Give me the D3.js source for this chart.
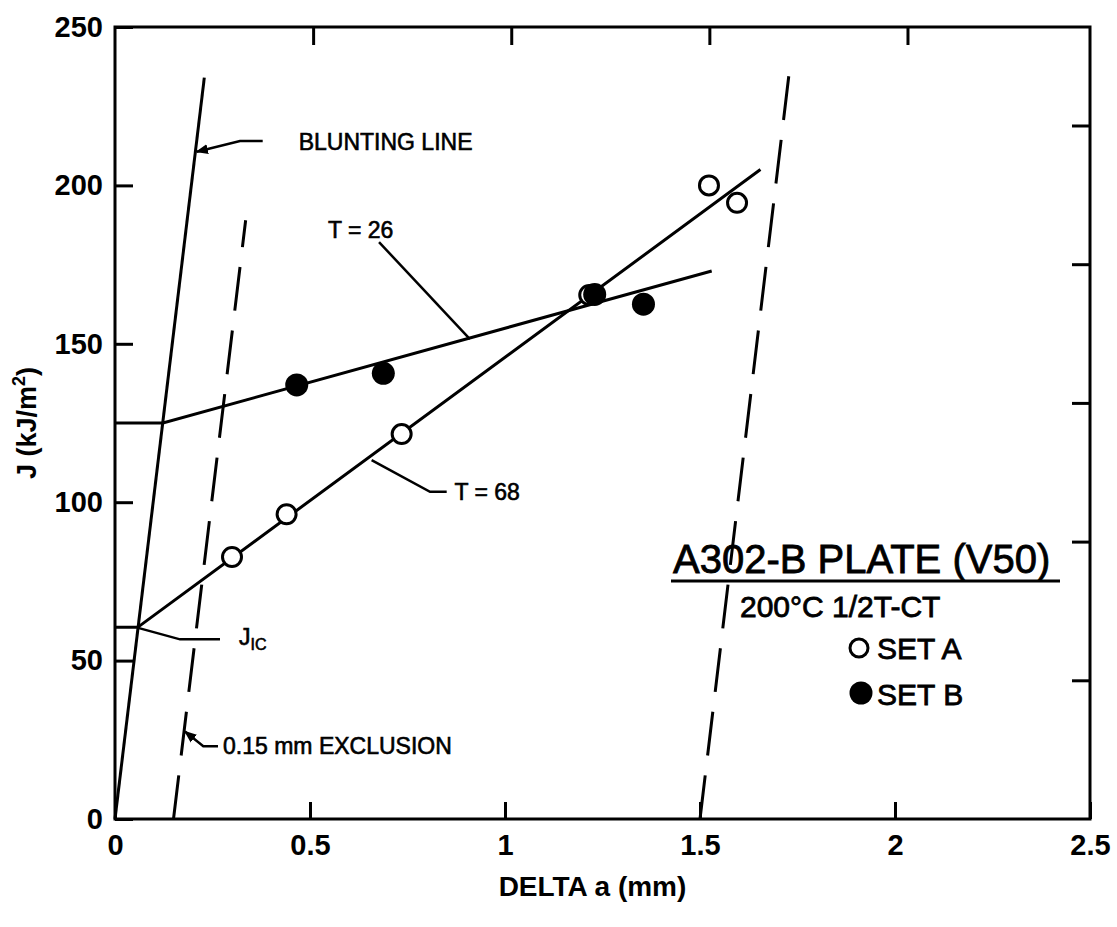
<!DOCTYPE html>
<html>
<head>
<meta charset="utf-8">
<script src="https://cdn.jsdelivr.net/npm/d3@7"></script>
<style>
  body { margin: 0; background: #fff; }
  svg { display: block; font-family: "Liberation Sans", Arial, Helvetica, sans-serif; }
  .frame, .fit, .leader { fill: none; stroke: #000; }
  .axis path { display: none; }
  .axis line { stroke: #000; stroke-width: 3; }
  .axis text { font-size: 29px; font-weight: bold; fill: #000; }
  .note { font-size: 23px; fill: #000; stroke: #000; stroke-width: 0.6; }
  .leg text { fill: #000; stroke: #000; stroke-width: 0.8; }
</style>
</head>
<body>
<svg width="1117" height="927"></svg>
<script>
// data: crack growth (mm) vs J (kJ/m^2)
const setA = [
  { a: 0.30, j: 82.7 },
  { a: 0.44, j: 96.2 },
  { a: 0.735, j: 121.5 },
  { a: 1.216, j: 165.4 },
  { a: 1.523, j: 200.0 },
  { a: 1.595, j: 194.5 }
];
const setB = [
  { a: 0.466, j: 137.0 },
  { a: 0.688, j: 140.7 },
  { a: 1.23, j: 165.6 },
  { a: 1.355, j: 162.5 }
];

// drawn lines, end points
const bluntingLine = [{ a: 0, j: 0 }, { a: 0.229, j: 234 }];
const exclusionNear = [{ a: 0.15, j: 0 }, { a: 0.335, j: 189 }];
const exclusionFar = [{ a: 1.50, j: 0 }, { a: 1.732, j: 239 }];
const fitT26 = [{ a: 0, j: 125 }, { a: 0.123, j: 125 }, { a: 1.53, j: 173 }];
const fitT68 = [{ a: 0, j: 60.5 }, { a: 0.058, j: 60.5 }, { a: 1.655, j: 205 }];

// tick values
const xTicks = [0, 0.5, 1, 1.5, 2, 2.5];
const yTicks = [0, 50, 100, 150, 200, 250];
const topTicksIn = [0.02, 0.04, 0.06, 0.08];          // inches
const rightTicksInLb = [250, 500, 750, 1000, 1250];   // in-lb/in^2

// leader lines + labels (data coords)
const notes = [
  { text: 'BLUNTING LINE', path: [[0.2095, 210.6], [0.3205, 214], [0.3787, 214]], at: [0.471, 211.2], arrow: true },
  { text: 'T = 26', path: [[0.677, 182.1], [0.910, 151.5]], at: [0.546, 183.4] },
  { text: 'T = 68', path: [[0.658, 113.3], [0.8077, 103.3], [0.8505, 103.3]], at: [0.8705, 100.6] },
  { text: 'J', sub: 'IC', path: [[0.057, 60.4], [0.1667, 56.7], [0.2692, 56.7]], at: [0.318, 54.9] },
  { text: '0.15 mm EXCLUSION', path: [[0.1795, 27.6], [0.2264, 23.0], [0.2641, 23.0]], at: [0.277, 20.6], arrow: true }
];

const margin = { top: 27, right: 27, bottom: 108, left: 115 };
const width = 1117 - margin.left - margin.right;
const height = 927 - margin.top - margin.bottom;

const svg = d3.select('svg');
const defs = svg.append('defs');
defs.append('marker')
    .attr('id', 'arr')
    .attr('viewBox', '0 0 10 10')
    .attr('refX', 9).attr('refY', 5)
    .attr('markerWidth', 5).attr('markerHeight', 5)
    .attr('orient', 'auto-start-reverse')
    .append('path')
    .attr('d', 'M0,1 L10,5 L0,9 Z')
    .attr('fill', '#000');

const g = svg.append('g').attr('transform', `translate(${margin.left},${margin.top})`);

const x = d3.scaleLinear().domain([0, 2.5]).range([0, width]);
const y = d3.scaleLinear().domain([0, 250]).range([height, 0]);

// axes, ticks point inward
g.append('g')
    .attr('class', 'axis')
    .attr('transform', `translate(0,${height})`)
    .call(d3.axisBottom(x).tickValues(xTicks).tickSize(-17).tickPadding(15).tickFormat(d3.format('')));

g.append('g')
    .attr('class', 'axis')
    .call(d3.axisLeft(y).tickValues(yTicks).tickSize(-18).tickPadding(12));

g.append('g')
    .attr('class', 'axis')
    .call(d3.axisTop(x).tickValues(topTicksIn.map(d => d * 25.4)).tickSize(-18).tickFormat(''));

g.append('g')
    .attr('class', 'axis')
    .attr('transform', `translate(${width},0)`)
    .call(d3.axisRight(y).tickValues(rightTicksInLb.map(d => d * 0.175127)).tickSize(-18).tickFormat(''));

g.append('rect')
    .attr('class', 'frame')
    .attr('width', width)
    .attr('height', height)
    .attr('stroke-width', 3);

// axis titles
svg.append('text')
    .attr('x', margin.left + width / 2 - 10)
    .attr('y', 896)
    .attr('text-anchor', 'middle')
    .attr('font-size', 28)
    .attr('font-weight', 'bold')
    .text('DELTA a (mm)');

const yTitle = svg.append('text')
    .attr('transform', `translate(36,${margin.top + height / 2}) rotate(-90)`)
    .attr('text-anchor', 'middle')
    .attr('font-size', 27)
    .attr('font-weight', 'bold');
yTitle.append('tspan').text('J (kJ/m');
yTitle.append('tspan').attr('font-size', 18).attr('dy', -11).text('2');
yTitle.append('tspan').attr('dy', 11).text(')');

// lines
const line = d3.line().x(d => x(d.a)).y(d => y(d.j));

g.append('path').datum(bluntingLine).attr('class', 'fit').attr('stroke-width', 3).attr('d', line);
[exclusionNear, exclusionFar].forEach(seg => {
    g.append('path').datum(seg)
        .attr('class', 'fit')
        .attr('stroke-width', 3)
        .attr('stroke-dasharray', '44,20')
        .attr('d', line);
});
g.append('path').datum(fitT26).attr('class', 'fit').attr('stroke-width', 3).attr('d', line);
g.append('path').datum(fitT68).attr('class', 'fit').attr('stroke-width', 3).attr('d', line);

// leaders and notes
const leader = d3.line().x(d => x(d[0])).y(d => y(d[1]));
notes.forEach(n => {
    const p = g.append('path')
        .attr('class', 'leader')
        .attr('stroke-width', 2.5)
        .attr('d', leader(n.path));
    if (n.arrow) p.attr('marker-start', 'url(#arr)');
    const t = g.append('text')
        .attr('class', 'note')
        .attr('x', x(n.at[0]))
        .attr('y', y(n.at[1]))
        .text(n.text);
    if (n.sub) {
        t.append('tspan').attr('font-size', 16).attr('dy', 5).text(n.sub);
    }
});

// points
g.selectAll('.ptA')
    .data(setA)
    .join('circle')
    .attr('class', 'ptA')
    .attr('cx', d => x(d.a))
    .attr('cy', d => y(d.j))
    .attr('r', 9.5)
    .attr('fill', '#fff')
    .attr('stroke', '#000')
    .attr('stroke-width', 3);

g.selectAll('.ptB')
    .data(setB)
    .join('circle')
    .attr('class', 'ptB')
    .attr('cx', d => x(d.a))
    .attr('cy', d => y(d.j))
    .attr('r', 11.5)
    .attr('fill', '#000');

// legend block
const leg = svg.append('g').attr('class', 'leg');
leg.append('text')
    .attr('x', 673).attr('y', 573)
    .attr('font-size', 40)
    .text('A302-B PLATE (V50)');
leg.append('line')
    .attr('x1', 671).attr('x2', 1060)
    .attr('y1', 581).attr('y2', 581)
    .attr('stroke', '#000').attr('stroke-width', 3);
leg.append('text')
    .attr('x', 740).attr('y', 617)
    .attr('font-size', 30)
    .text('200°C 1/2T-CT');
leg.append('circle')
    .attr('cx', 859).attr('cy', 648)
    .attr('r', 9).attr('fill', '#fff')
    .attr('stroke', '#000').attr('stroke-width', 3);
leg.append('text')
    .attr('x', 877).attr('y', 659)
    .attr('font-size', 30)
    .text('SET A');
leg.append('circle')
    .attr('cx', 861).attr('cy', 693)
    .attr('r', 11.5).attr('fill', '#000');
leg.append('text')
    .attr('x', 877).attr('y', 705)
    .attr('font-size', 30)
    .text('SET B');
</script>
</body>
</html>
